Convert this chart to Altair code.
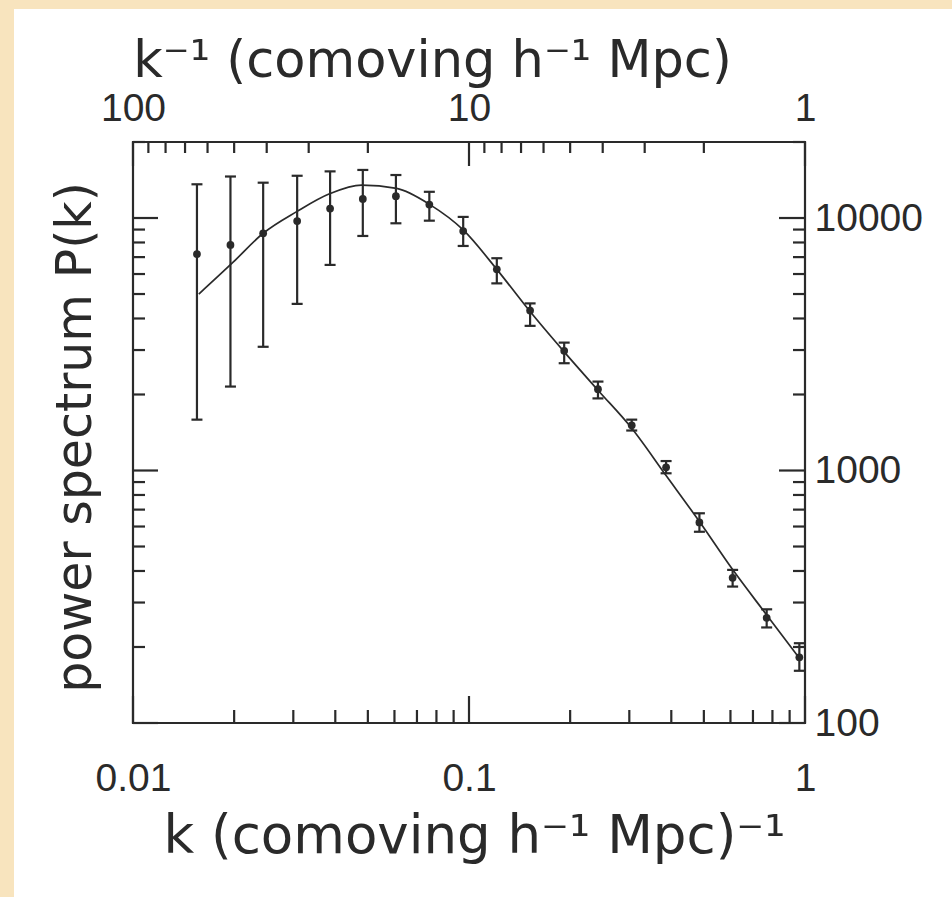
import altair as alt
import pandas as pd

k_obs = [0.0155, 0.0195, 0.0244, 0.0308, 0.0386, 0.0483, 0.0606, 0.0762, 0.0961, 0.121,
         0.152, 0.192, 0.242, 0.305, 0.386, 0.485, 0.609, 0.769, 0.962]
p_obs = [7200, 7820, 8700, 9730, 10900, 11900, 12200, 11300, 8880, 6260,
         4300, 2980, 2100, 1510, 1030, 623, 376, 261, 182]
p_hi = [13600, 14600, 13800, 14700, 15300, 15500, 14800, 12700, 10100, 6930,
        4590, 3210, 2250, 1590, 1090, 677, 404, 282, 207]
p_lo = [1590, 2150, 3090, 4570, 6520, 8490, 9530, 9760, 7750, 5510,
        3740, 2660, 1930, 1440, 975, 572, 347, 239, 161]

# ---- model curve ----
k_mod = [0.0157, 0.0199, 0.0244, 0.0307, 0.0386, 0.0479, 0.0609, 0.0765, 0.0961, 0.121,
         0.152, 0.192, 0.242, 0.305, 0.386, 0.485, 0.609, 0.769, 0.955]
p_mod = [5000, 6700, 8700, 10600, 12500, 13500, 13100, 11300, 8970, 6260,
         4260, 2950, 2080, 1470, 955, 628, 405, 268, 183]

# ---- axis ticks / labels ----
x_labels = [0.01, 0.1, 1]
x_minor = [0.02, 0.03, 0.04, 0.05, 0.06, 0.07, 0.08, 0.09,
           0.2, 0.3, 0.4, 0.5, 0.6, 0.7, 0.8, 0.9]
top_inv_major = [100, 10, 1]
top_inv_minor = [90, 80, 70, 60, 50, 40, 30, 20, 9, 8, 7, 6, 5, 4, 3, 2]
y_labels = [100, 1000, 10000]
y_minor = [200, 300, 400, 500, 600, 700, 800, 900,
           2000, 3000, 4000, 5000, 6000, 7000, 8000, 9000, 20000]

W, H = 672, 581
INK = "#2a2a2a"
LABEL_FONT = "Liberation Sans"
TITLE_FONT = "DejaVu Sans"

xscale = alt.Scale(type="log", domain=[0.01, 1])
yscale = alt.Scale(type="log", domain=[100, 20000])

obs = pd.DataFrame({"k": k_obs, "p": p_obs, "hi": p_hi, "lo": p_lo})
mod = pd.DataFrame({"k": k_mod, "p": p_mod})

# points: carry bottom x axis and left y axis (title only)
points = alt.Chart(obs).mark_circle(size=60, color=INK, opacity=1).encode(
    x=alt.X("k:Q", scale=xscale, axis=alt.Axis(
        orient="bottom", values=x_labels, format="~g", ticks=False, tickSize=0,
        domain=False, grid=False, labelFlush=False, labelOverlap=False,
        labelFont=LABEL_FONT, labelFontSize=39, labelColor=INK,
        labelBaseline="alphabetic", labelPadding=67,
        title="k (comoving h⁻¹ Mpc)⁻¹", titleFont=TITLE_FONT, titleFontSize=53,
        titleFontWeight="normal", titleColor=INK, titleBaseline="alphabetic",
        titleAlign="center", titleX=341, titleY=129)),
    y=alt.Y("p:Q", scale=yscale, axis=alt.Axis(
        orient="left", values=y_labels, labels=False, ticks=False, tickSize=0,
        domain=False, grid=False,
        title="power spectrum P(k)", titleFont=TITLE_FONT, titleFontSize=49,
        titleFontWeight="normal", titleColor=INK, titleBaseline="alphabetic",
        titleAlign="center", titleAngle=270, titleX=-43, titleY=295)),
)

# model line: carries top x axis and right y axis
line = alt.Chart(mod).mark_line(color=INK, strokeWidth=1.7, interpolate="monotone").encode(
    x=alt.X("k:Q", scale=xscale, axis=alt.Axis(
        orient="top", values=x_labels, ticks=False, tickSize=0, domain=False, grid=False,
        labelExpr="datum.value < 0.05 ? '100' : (datum.value < 0.5 ? '10' : '1')",
        labelFlush=False, labelOverlap=False,
        labelFont=LABEL_FONT, labelFontSize=39, labelColor=INK,
        labelBaseline="alphabetic", labelPadding=22,
        title="k⁻¹ (comoving h⁻¹ Mpc)", titleFont=TITLE_FONT, titleFontSize=51,
        titleFontWeight="normal", titleColor=INK, titleBaseline="alphabetic",
        titleAlign="center", titleX=299, titleY=-66)),
    y=alt.Y("p:Q", scale=yscale, axis=alt.Axis(
        orient="right", values=y_labels, format="d", ticks=False, tickSize=0,
        domain=False, grid=False, labelFlush=False, labelOverlap=False,
        labelFont=LABEL_FONT, labelFontSize=39, labelColor=INK,
        labelAlign="left", labelBaseline="middle", labelPadding=9, title=None)),
)

err = alt.Chart(obs).mark_rule(color=INK, strokeWidth=2.2).encode(
    x=alt.X("k:Q", scale=xscale, axis=None),
    y=alt.Y("lo:Q", scale=yscale, axis=None),
    y2="hi:Q",
)
cap_hi = alt.Chart(obs).mark_tick(color=INK, orient="horizontal", size=11, thickness=2.2,
                                  opacity=1).encode(
    x=alt.X("k:Q", scale=xscale, axis=None),
    y=alt.Y("hi:Q", scale=yscale, axis=None),
)
cap_lo = alt.Chart(obs).mark_tick(color=INK, orient="horizontal", size=11, thickness=2.2,
                                  opacity=1).encode(
    x=alt.X("k:Q", scale=xscale, axis=None),
    y=alt.Y("lo:Q", scale=yscale, axis=None),
)


def xticks(vals, side, length):
    df = pd.DataFrame({"v": vals})
    if side == "bottom":
        y0, y1 = H, H - length
    else:
        y0, y1 = 0, length
    return alt.Chart(df).mark_rule(color=INK, strokeWidth=2.2).encode(
        x=alt.X("v:Q", scale=xscale, axis=None),
        y=alt.value(y0), y2=alt.value(y1))


def yticks(vals, side, length):
    df = pd.DataFrame({"v": vals})
    if side == "left":
        x0, x1 = 0, length
    else:
        x0, x1 = W, W - length
    return alt.Chart(df).mark_rule(color=INK, strokeWidth=2.2).encode(
        y=alt.Y("v:Q", scale=yscale, axis=None),
        x=alt.value(x0), x2=alt.value(x1))


top_major = [1.0 / v for v in top_inv_major]
top_minor = [1.0 / v for v in top_inv_minor]

tick_layers = [
    xticks(x_labels, "bottom", 27), xticks(x_minor, "bottom", 13),
    xticks(top_major, "top", 24), xticks(top_minor, "top", 11),
    yticks(y_labels, "left", 25), yticks(y_minor, "left", 12),
    yticks(y_labels, "right", 26), yticks(y_minor, "right", 12),
]

# scanned-paper edge (decoration)
edge = alt.Data(values=[{"e": 1}])
strip_left = alt.Chart(edge).mark_rect(color="#F8E4BE").encode(
    x=alt.value(-133), x2=alt.value(-119), y=alt.value(-142), y2=alt.value(H + 174))
strip_top = alt.Chart(edge).mark_rect(color="#F8E4BE").encode(
    x=alt.value(-133), x2=alt.value(W + 147), y=alt.value(-142), y2=alt.value(-133))

chart = alt.layer(
    strip_left, strip_top, points, line, err, cap_hi, cap_lo, *tick_layers
).resolve_axis(x="independent", y="independent").properties(
    width=W, height=H,
    autosize=alt.AutoSizeParams(type="none"),
    padding={"left": 133, "top": 142, "right": 147, "bottom": 174},
    background="white",
).configure_view(stroke=INK, strokeWidth=2.2)

chart.save("out.html", embed_options={"renderer": "svg", "actions": False})
